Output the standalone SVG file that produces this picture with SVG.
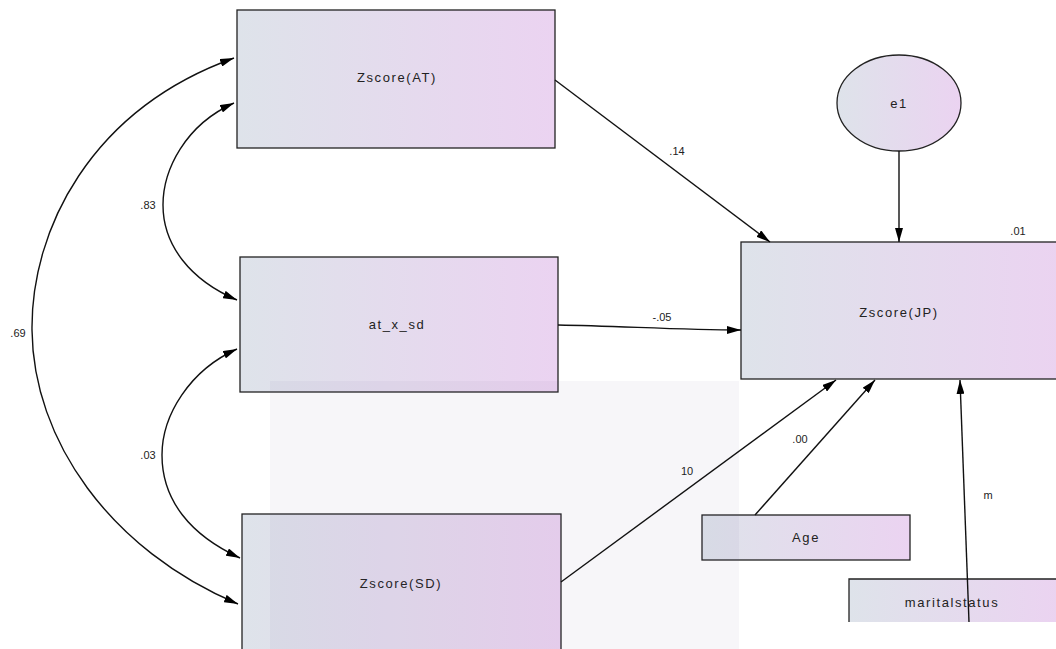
<svg xmlns="http://www.w3.org/2000/svg" width="1056" height="649" viewBox="0 0 1056 649">
<defs>
<linearGradient id="g" x1="0" y1="0" x2="1" y2="0">
<stop offset="0" stop-color="#dee3ea"/>
<stop offset="1" stop-color="#ebd3f1"/>
</linearGradient>
<marker id="ah" viewBox="0 0 14 8" refX="14" refY="4" markerWidth="14" markerHeight="8" markerUnits="userSpaceOnUse" orient="auto-start-reverse">
<path d="M0,0 L14,4 L0,8 z" fill="#000"/>
</marker>
<style>
.box{fill:url(#g);stroke:#222;stroke-width:1.3}
.lbl{font-family:"Liberation Sans",Arial,sans-serif;font-size:13px;fill:#222;text-anchor:middle;letter-spacing:1.6px}
.num{font-family:"Liberation Sans",Arial,sans-serif;font-size:11px;fill:#222;text-anchor:middle}
.c{fill:none;stroke:#111;stroke-width:1.4}
</style>
</defs>
<rect width="1056" height="649" fill="#fff"/>
<g id="n_at"><rect class="box" x="237" y="10" width="318" height="138"/><text class="lbl" x="397" y="82">Zscore(AT)</text></g>
<g id="n_atxsd"><rect class="box" x="240" y="257" width="318" height="135"/><text class="lbl" x="397" y="329">at_x_sd</text></g>
<g id="n_sd"><rect class="box" x="242" y="514" width="319" height="150"/><text class="lbl" x="401" y="588">Zscore(SD)</text></g>
<g id="n_jp"><rect class="box" x="741" y="242" width="320" height="137"/><text class="lbl" x="899" y="317">Zscore(JP)</text></g>
<g id="n_e1"><ellipse class="box" cx="899" cy="103" rx="62" ry="48"/><text class="lbl" x="899" y="108">e1</text></g>
<g id="n_age"><rect class="box" x="702" y="515" width="208" height="45"/><text class="lbl" x="806" y="542">Age</text></g>
<g id="n_ms"><rect x="849" y="579" width="210" height="43" fill="url(#g)"/><path d="M849,622 V579 H1056" fill="none" stroke="#222" stroke-width="1.3"/><text class="lbl" x="952" y="607">maritalstatus</text></g>
<rect id="watermark" x="270" y="381" width="469" height="268" fill="#6c6496" opacity="0.055"/>
<g id="connectors">
<path class="c" d="M234,58 C90,110 31,230 32,330 C33,440 110,550 238,604" marker-start="url(#ah)" marker-end="url(#ah)"/>
<path class="c" d="M234,103 C185,125 163,170 163,205 C163,245 190,280 237,300" marker-start="url(#ah)" marker-end="url(#ah)"/>
<path class="c" d="M237,349 C190,370 162,415 162,455 C162,500 190,535 240,558" marker-start="url(#ah)" marker-end="url(#ah)"/>
<line class="c" x1="555" y1="80" x2="770" y2="242" marker-end="url(#ah)"/>
<path class="c" d="M558,325 C620,326 680,330 741,330" marker-end="url(#ah)"/>
<line class="c" x1="561" y1="582" x2="836" y2="380" marker-end="url(#ah)"/>
<line class="c" x1="755" y1="515" x2="875" y2="380" marker-end="url(#ah)"/>
<line class="c" x1="969" y1="622" x2="960" y2="380" marker-end="url(#ah)"/>
<line class="c" x1="899" y1="151" x2="899" y2="242" marker-end="url(#ah)"/>
</g>
<g id="labels">
<text class="num" x="18" y="337">.69</text>
<text class="num" x="148" y="209">.83</text>
<text class="num" x="148" y="459">.03</text>
<text class="num" x="677" y="155">.14</text>
<text class="num" x="662" y="321">-.05</text>
<text class="num" x="687" y="475">10</text>
<text class="num" x="800" y="443">.00</text>
<text class="num" x="988" y="499">m</text>
<text class="num" x="1018" y="235">.01</text>
</g>
</svg>
